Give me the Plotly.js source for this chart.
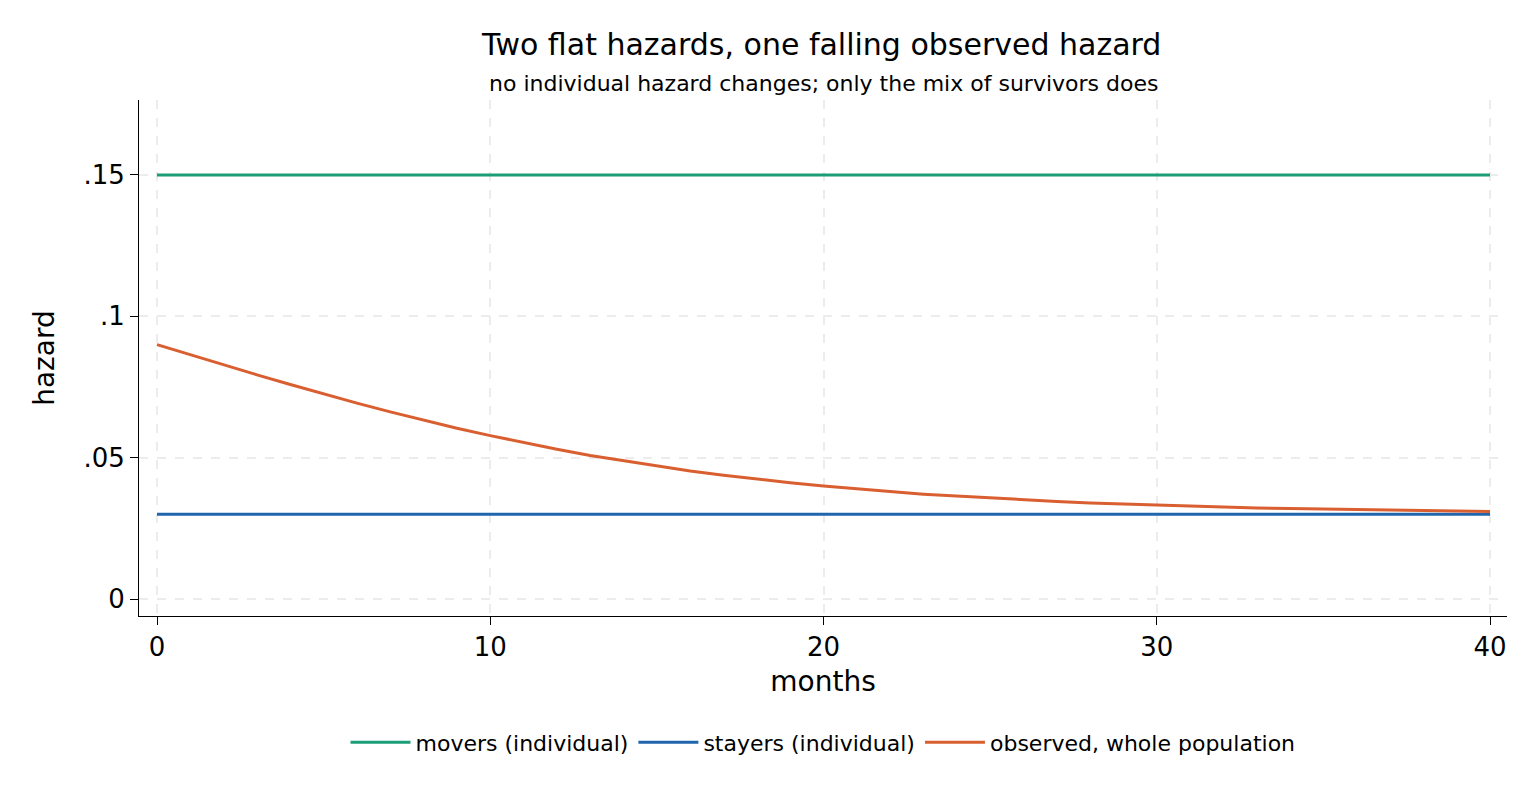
<!DOCTYPE html>
<html>
<head>
<meta charset="utf-8">
<script src="https://cdn.plot.ly/plotly-3.0.1.min.js"></script>
<style>html,body{margin:0;padding:0;background:#fff}</style>
</head>
<body>
<div id="chart" style="width:1536px;height:806px"></div>
<script>
// months 0..40
const months = Array.from({length: 41}, (_, i) => i);
const movers = months.map(() => 0.15);
const stayers = months.map(() => 0.03);
// observed hazard, month by month
const observed = [
  0.0900, 0.0864, 0.0828, 0.0793, 0.0759, 0.0725, 0.0693, 0.0662, 0.0632, 0.0604,
  0.0578, 0.0553, 0.0530, 0.0508, 0.0489, 0.0470, 0.0453, 0.0438, 0.0424, 0.0411,
  0.0400, 0.0389, 0.0380, 0.0371, 0.0364, 0.0357, 0.0351, 0.0345, 0.0340, 0.0336,
  0.0332, 0.0328, 0.0325, 0.0322, 0.0320, 0.0318, 0.0316, 0.0314, 0.0312, 0.0311,
  0.0310
];
const yTicks = [0, 0.05, 0.1, 0.15];
const yTickText = ['0', '.05', '.1', '.15'];

const font = 'DejaVu Sans, sans-serif';

const data = [
  {x: months, y: movers, type: 'scatter', mode: 'lines', name: 'movers (individual)',
   line: {color: '#1b9e77', width: 3}},
  {x: months, y: stayers, type: 'scatter', mode: 'lines', name: 'stayers (individual)',
   line: {color: '#2166ac', width: 3}},
  {x: months, y: observed, type: 'scatter', mode: 'lines', name: 'observed, whole population',
   line: {color: '#d95f30', width: 3}}
];

const layout = {
  width: 1536, height: 806,
  font: {family: font, size: 20, color: '#000'},
  margin: {l: 139, r: 29, t: 100, b: 190},
  paper_bgcolor: '#fff', plot_bgcolor: '#fff',
  title: {text: 'Two flat hazards, one falling observed hazard', x: 0.535, xanchor: 'center',
          y: 0.945, yanchor: 'middle', font: {size: 30}},
  annotations: [{text: 'no individual hazard changes; only the mix of survivors does',
    xref: 'paper', yref: 'paper', x: 0.5, y: 1, yshift: 2, yanchor: 'bottom', showarrow: false,
    font: {size: 22}}],
  xaxis: {
    range: [-0.54, 40.51], tickvals: [0, 10, 20, 30, 40],
    showline: true, linecolor: '#000', linewidth: 1, mirror: false,
    ticks: 'outside', ticklen: 8, tickcolor: '#000',
    showgrid: true, gridcolor: '#ececec', griddash: 'dash', gridwidth: 1.5,
    zeroline: false, tickfont: {size: 26},
    title: {text: 'months', font: {size: 28}, standoff: 10}
  },
  yaxis: {
    range: [-0.006, 0.1765], tickvals: yTicks, ticktext: yTickText,
    showline: true, linecolor: '#000', linewidth: 1,
    ticks: 'outside', ticklen: 8, tickcolor: '#000',
    showgrid: true, gridcolor: '#ececec', griddash: 'dash', gridwidth: 1.5,
    zeroline: false, tickfont: {size: 26},
    title: {text: 'hazard', font: {size: 28}, standoff: 20}
  },
  showlegend: true,
  legend: {orientation: 'h', x: 0.5, xanchor: 'center', y: -0.245, yanchor: 'middle',
           font: {size: 22}, itemwidth: 60}
};

Plotly.newPlot('chart', data, layout, {displayModeBar: false});
</script>
</body>
</html>
